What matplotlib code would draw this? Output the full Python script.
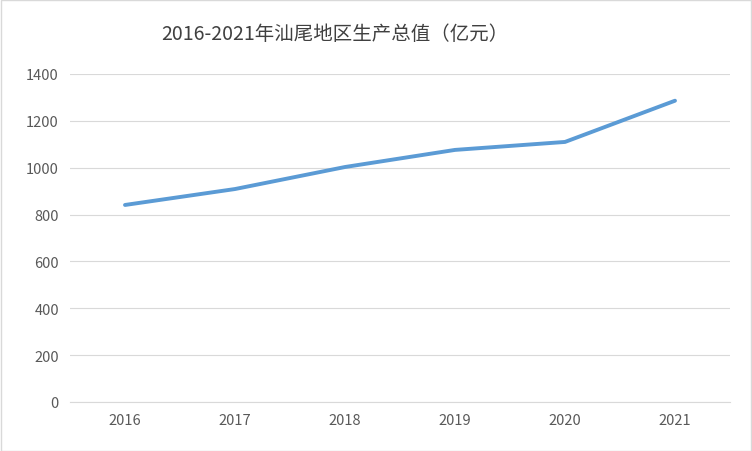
import matplotlib
matplotlib.use("Agg")
import matplotlib.pyplot as plt

years = ["2016", "2017", "2018", "2019", "2020", "2021"]
values = [841, 909, 1003, 1076, 1110, 1286]
yticks = [0, 200, 400, 600, 800, 1000, 1200, 1400]

plt.rcParams["font.family"] = ["Noto Sans CJK JP", "Noto Sans CJK SC", "DejaVu Sans"]
fig = plt.figure(figsize=(7.52, 4.52), dpi=100)
ax = fig.add_axes([70/752, 1-403/452, 660/752, 328/452])
x = list(range(len(years)))
ax.plot(x, values, color="#5B9BD5", lw=2.8, solid_capstyle="round")
ax.set_xlim(-0.5, len(years)-0.5)
ax.set_ylim(0, 1400)
ax.set_yticks(yticks)
ax.set_xticks(x)
ax.set_xticklabels(years)
ax.grid(axis="y", color="#D9D9D9", lw=0.8)
ax.set_axisbelow(True)
for s in ["top", "right", "left"]:
    ax.spines[s].set_visible(False)
ax.spines["bottom"].set_color("#D9D9D9")
ax.tick_params(length=0, colors="#595959", labelsize=10.5, pad=8)
fig.text(335/752, 1-35/452, "2016-2021年汕尾地区生产总值（亿元）", ha="center", va="center",
         fontsize=14, color="#404040")
fig.patches.append(plt.Rectangle((0.001, 0.001), 0.998, 0.997, transform=fig.transFigure,
                                 fill=False, edgecolor="#D9D9D9", lw=1))
fig.savefig("out.png", dpi=100)
